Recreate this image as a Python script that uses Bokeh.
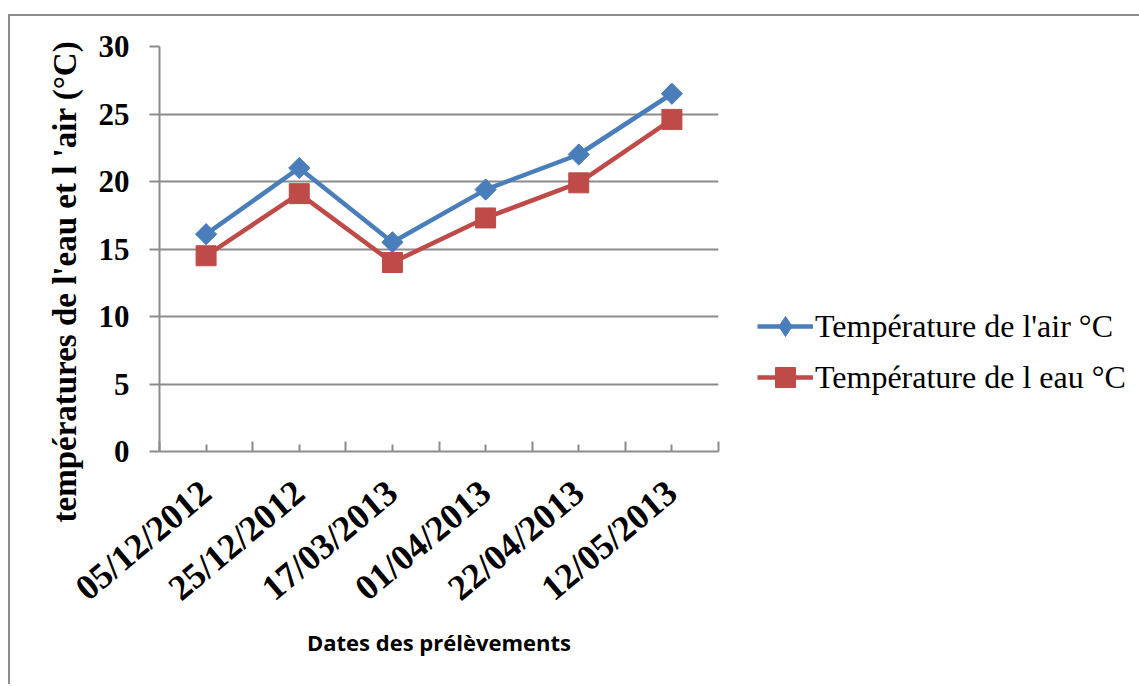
import math
from bokeh.plotting import figure
from bokeh.models import (FixedTicker, Legend, LegendItem, Title, Range1d)
from bokeh.embed import file_html
from bokeh.resources import INLINE

dates = ["05/12/2012", "25/12/2012", "17/03/2013", "01/04/2013", "22/04/2013", "12/05/2013"]
air = [16.1, 21.0, 15.5, 19.4, 22.0, 26.5]
eau = [14.5, 19.1, 14.0, 17.3, 19.9, 24.6]
y_ticks = [0, 5, 10, 15, 20, 25, 30]

BLUE = "#4A7EBB"
RED = "#BE4B48"
GRID = "#8C8C8C"
SERIF = "Liberation Serif"

xs = [i + 0.5 for i in range(len(dates))]

p = figure(frame_width=559, height=670, output_backend="svg", toolbar_location=None,
           x_range=Range1d(0, len(dates)), y_range=Range1d(0, 30),
           min_border_left=149, min_border_right=0, min_border_top=30, min_border_bottom=235)
p.styles = {"margin-left": "10px", "margin-top": "16px",
            "box-shadow": "-2px -2px 0 0 #8c8c8c"}
p.outline_line_color = None
p.background_fill_color = "white"
p.border_fill_color = "white"

# x axis
xa = p.xaxis[0]
xa.ticker = FixedTicker(ticks=xs, minor_ticks=list(range(len(dates) + 1)))
xa.major_label_overrides = {x: d for x, d in zip(xs, dates)}
xa.major_label_orientation = math.radians(40)
xa.major_label_text_font = SERIF
xa.major_label_text_font_style = "bold"
xa.major_label_text_font_size = "36px"
xa.major_label_text_color = "black"
xa.major_label_standoff = 36
xa.major_tick_in = 7
xa.major_tick_out = 0
xa.minor_tick_in = 10
xa.minor_tick_out = 0
xa.major_tick_line_color = GRID
xa.minor_tick_line_color = GRID
xa.major_tick_line_width = 2
xa.minor_tick_line_width = 2
xa.axis_line_color = GRID
xa.axis_line_width = 2
xa.axis_label = "Dates des prélèvements"
xa.axis_label_text_font = "Open Sans"
xa.axis_label_text_font_style = "bold"
xa.axis_label_text_font_size = "22px"
xa.axis_label_text_color = "black"
xa.axis_label_standoff = 0

# y axis
ya = p.yaxis[0]
ya.ticker = FixedTicker(ticks=y_ticks)
ya.minor_tick_line_color = None
ya.major_tick_in = 0
ya.major_tick_out = 10
ya.major_tick_line_color = GRID
ya.major_tick_line_width = 2
ya.axis_line_color = GRID
ya.axis_line_width = 2
ya.major_label_text_font = SERIF
ya.major_label_text_font_style = "bold"
ya.major_label_text_font_size = "31px"
ya.major_label_text_color = "black"
ya.major_label_standoff = 20

p.xgrid.grid_line_color = None
p.ygrid.grid_line_color = GRID
p.ygrid.grid_line_width = 2
p.ygrid.ticker = FixedTicker(ticks=y_ticks)

p.add_layout(Title(text="températures de l'eau et l 'air (°C)", align="left", offset=-71,
                   text_font=SERIF, text_font_style="bold", text_font_size="33px",
                   text_color="black", standoff=26), "left")

l1 = p.line(xs, air, line_color=BLUE, line_width=4.5)
m1 = p.scatter(xs, air, marker="square", size=15, angle=math.pi / 4,
               fill_color=BLUE, line_color=BLUE)
# diamond on the same points (fits inside the rotated square; used for the legend glyph)
d1 = p.scatter(xs, air, marker="diamond", size=20, fill_color=BLUE, line_color=BLUE)
l2 = p.line(xs, eau, line_color=RED, line_width=4.5)
m2 = p.scatter(xs, eau, marker="square", size=20, fill_color=RED, line_color=RED)

legend = Legend(items=[LegendItem(label="Température de l'air °C", renderers=[l1, d1]),
                       LegendItem(label="Température de l eau °C", renderers=[l2, m2])],
                location=(39, 49), padding=0, margin=0, spacing=1,
                glyph_width=56, glyph_height=50, label_standoff=2,
                label_text_font=SERIF, label_text_font_size="32px", label_text_color="black",
                border_line_color=None, background_fill_alpha=0)
p.add_layout(legend, "right")

open("out.html", "w").write(file_html(p, INLINE))
